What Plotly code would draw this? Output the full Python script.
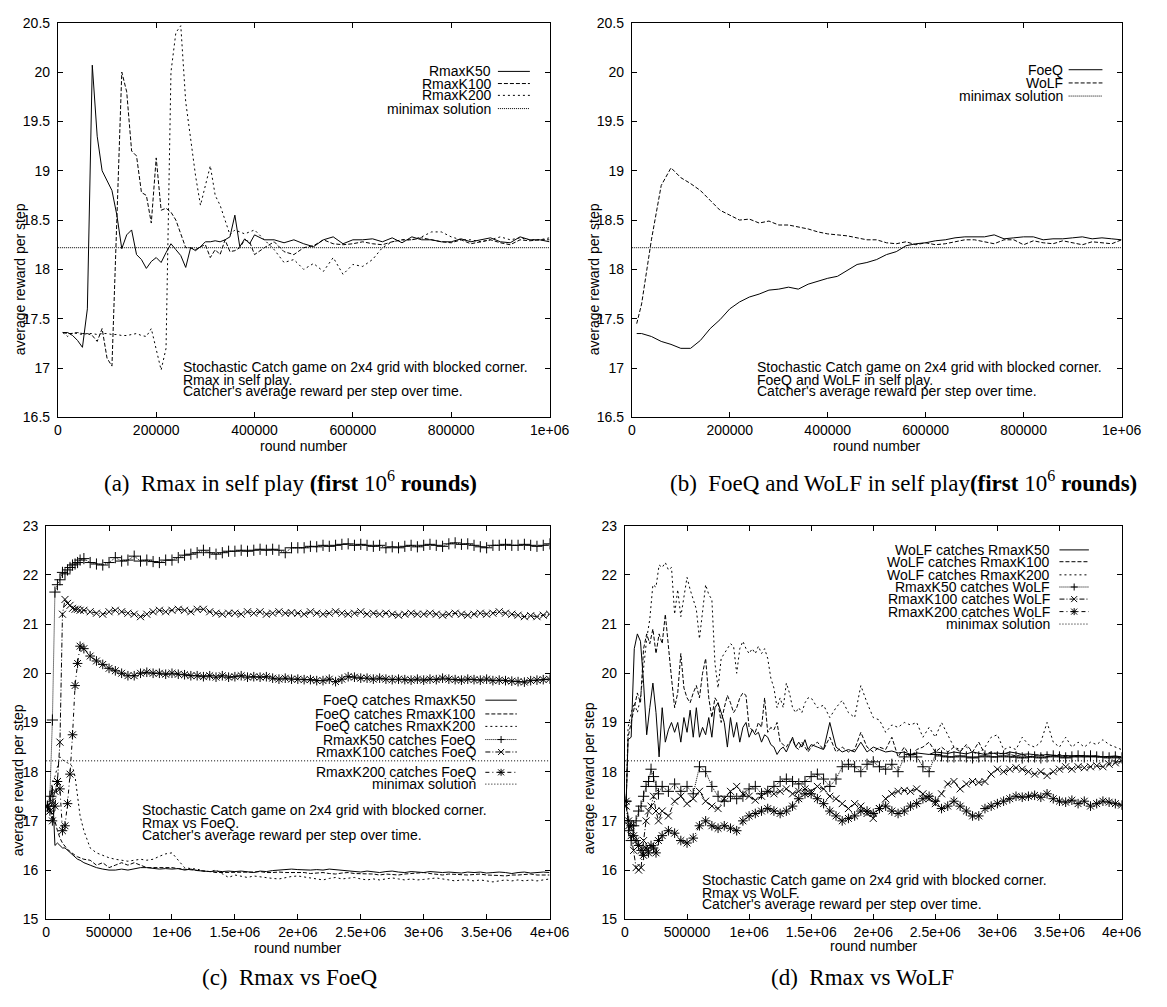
import plotly.graph_objects as go

W, H = 1167, 1007
FONT = "Liberation Sans, Arial, Helvetica, sans-serif"
SERIF = "Liberation Serif, Times New Roman, serif"

# ---------------- data ----------------
MINIMAX = 18.22

# panel (a): Rmax in self play
XA = list(range(10000, 400001, 10000)) + list(range(420000, 1000001, 20000))
A_K50 = [17.36, 17.36, 17.33, 17.28, 17.21, 17.6, 20.07, 19.35, 19.0, 18.9,
         18.8, 18.55, 18.21, 18.35, 18.4, 18.15, 18.1, 18.01, 18.08, 18.12,
         18.07, 18.17, 18.26, 18.2, 18.14, 18.02, 18.22, 18.19, 18.23, 18.28,
         18.28, 18.29, 18.28, 18.3, 18.33, 18.55, 18.23, 18.31, 18.26, 18.35,
         18.3, 18.3, 18.27, 18.3, 18.26, 18.23, 18.3, 18.33, 18.26, 18.3,
         18.3, 18.31, 18.28, 18.32, 18.27, 18.33, 18.3, 18.3, 18.28, 18.28,
         18.31, 18.28, 18.3, 18.32, 18.28, 18.27, 18.33, 18.3, 18.3, 18.28]
A_K100 = [17.36, 17.35, 17.35, 17.36, 17.35, 17.35, 17.33, 17.27, 17.4, 17.1,
          17.02, 18.5, 20.0, 19.8, 19.2, 19.15, 18.78, 18.75, 18.47, 19.13,
          18.6, 18.62, 18.58, 18.5, 18.35, 18.22, 18.22, 18.2, 18.23, 18.25,
          18.12, 18.2, 18.15, 18.3, 18.18, 18.19, 18.22, 18.3, 18.28, 18.15,
          18.22, 18.28, 18.18, 18.15, 18.22, 18.24, 18.3, 18.26, 18.25, 18.26,
          18.28, 18.26, 18.25, 18.28, 18.3, 18.3, 18.32, 18.3, 18.28, 18.27,
          18.3, 18.26, 18.28, 18.3, 18.27, 18.25, 18.3, 18.29, 18.3, 18.3]
A_K200 = [17.36, 17.32, 17.36, 17.35, 17.34, 17.35, 17.35, 17.34, 17.35, 17.35,
          17.34, 17.34, 17.33, 17.33, 17.34, 17.35, 17.33, 17.32, 17.4, 17.2,
          16.98, 17.2, 20.0, 20.4, 20.47, 19.7, 19.3, 18.95, 18.65, 18.85,
          19.05, 18.75, 18.65, 18.5, 18.35, 18.4, 18.38, 18.36, 18.38, 18.4,
          18.3, 18.2, 18.07, 18.1, 18.0, 18.06, 17.98, 18.12, 17.95, 18.05,
          18.03, 18.1, 18.22, 18.28, 18.3, 18.3, 18.33, 18.38, 18.38, 18.33,
          18.3, 18.3, 18.28, 18.3, 18.33, 18.3, 18.32, 18.3, 18.3, 18.32]

# panel (b): FoeQ and WoLF in self play
XB = [10000] + list(range(20000, 1000001, 20000))
B_FOEQ = [17.35, 17.35, 17.32, 17.27, 17.24, 17.2, 17.2, 17.28, 17.4, 17.49,
          17.6, 17.67, 17.72, 17.75, 17.79, 17.8, 17.82, 17.8, 17.85, 17.88,
          17.91, 17.93, 17.99, 18.05, 18.07, 18.1, 18.15, 18.18, 18.24, 18.26,
          18.27, 18.29, 18.3, 18.32, 18.33, 18.33, 18.33, 18.35, 18.31, 18.32,
          18.33, 18.33, 18.3, 18.31, 18.31, 18.32, 18.33, 18.31, 18.32, 18.31, 18.3]
B_WOLF = [17.45, 17.65, 18.3, 18.85, 19.03, 18.93, 18.87, 18.8, 18.7, 18.6,
          18.55, 18.5, 18.51, 18.47, 18.49, 18.45, 18.45, 18.43, 18.41, 18.38,
          18.36, 18.35, 18.34, 18.32, 18.3, 18.3, 18.27, 18.26, 18.28, 18.25,
          18.27, 18.25, 18.26, 18.28, 18.3, 18.3, 18.28, 18.26, 18.3, 18.3,
          18.25, 18.29, 18.27, 18.26, 18.29, 18.27, 18.25, 18.28, 18.27, 18.26, 18.3]

# shared grid for panels (c) and (d) marker series
XM = [10000, 30000, 50000, 70000, 90000, 110000, 130000, 150000, 170000, 190000,
      210000, 230000, 250000, 270000, 300000] + list(range(350000, 4000001, 50000))

# panel (c): Rmax vs FoeQ
C_F50 = [17.3, 17.35, 17.7, 16.5, 16.55, 16.5, 16.45, 16.45, 16.4, 16.35, 16.3, 16.25, 16.22, 16.2, 16.15,
         16.1, 16.05, 16.02, 16.0, 16.0, 16.02, 16.0, 16.03, 16.05, 16.05,
         16.03, 16.02, 16.03, 16.02, 16.03, 16.0, 16.02, 15.99, 15.98, 15.97,
         15.98, 15.97, 15.98, 15.97, 15.98, 15.96, 15.95, 15.98, 15.97, 15.99,
         16.0, 16.0, 16.02, 16.01, 16.0, 16.0, 16.01, 16.0, 16.02, 16.01,
         16.0, 15.98, 15.97, 15.96, 15.98, 15.96, 15.95, 15.97, 15.98, 15.96,
         15.95, 15.97, 15.96, 15.95, 15.97, 15.96, 15.95, 15.96, 15.95, 15.94,
         15.96, 15.95, 15.96, 15.94, 15.95, 15.96, 15.95, 15.93, 15.95, 15.96,
         15.94, 15.95, 15.96, 15.95]
C_F100 = [17.3, 17.25, 17.1, 17.0, 16.8, 16.65, 16.55, 16.48, 16.42, 16.38, 16.33, 16.3, 16.27, 16.25, 16.22,
          16.2, 16.1, 16.15, 16.05, 16.1, 16.15, 16.1, 16.15, 16.1, 16.05,
          16.05, 16.05, 16.04, 16.05, 16.03, 16.02, 16.0, 15.99, 15.98, 15.97,
          15.95, 15.95, 15.96, 15.95, 15.96, 15.95, 15.96, 15.97, 15.95, 15.95,
          15.96, 15.95, 15.95, 15.96, 15.95, 15.93, 15.94, 15.95, 15.93, 15.92,
          15.94, 15.95, 15.93, 15.93, 15.92, 15.92, 15.9, 15.92, 15.91, 15.9,
          15.92, 15.93, 15.94, 15.95, 15.93, 15.92, 15.9, 15.92, 15.91, 15.9,
          15.9, 15.91, 15.92, 15.9, 15.9, 15.89, 15.88, 15.9, 15.9, 15.91,
          15.92, 15.9, 15.9, 15.9]
C_F200 = [17.3, 17.4, 17.8, 17.9, 18.1, 18.3, 18.25, 18.2, 18.18, 18.15, 18.1, 17.9, 17.5, 17.1, 16.8,
          16.45, 16.35, 16.3, 16.25, 16.22, 16.2, 16.18, 16.2, 16.22, 16.2,
          16.22, 16.28, 16.33, 16.35, 16.2, 16.05, 16.03, 16.02, 15.98, 15.97,
          16.0, 15.93, 15.85, 15.9, 15.87, 15.85, 15.88, 15.86, 15.85, 15.83,
          15.82, 15.85, 15.87, 15.88, 15.86, 15.84, 15.82, 15.8, 15.83, 15.85,
          15.82, 15.84, 15.85, 15.82, 15.8, 15.82, 15.8, 15.82, 15.84, 15.82,
          15.8, 15.82, 15.8, 15.81, 15.82, 15.84, 15.82, 15.8, 15.78, 15.8,
          15.8, 15.78, 15.8, 15.78, 15.76, 15.78, 15.8, 15.78, 15.8, 15.78,
          15.8, 15.78, 15.8, 15.82]
C_R50 = [17.3, 17.5, 19.05, 21.65, 21.8, 21.9, 22.05, 22.02, 22.1, 22.15, 22.2, 22.22, 22.25, 22.3, 22.33,
         22.25, 22.22, 22.2, 22.25, 22.35, 22.28, 22.3, 22.38, 22.28, 22.3,
         22.27, 22.25, 22.3, 22.3, 22.35, 22.4, 22.42, 22.45, 22.5, 22.45,
         22.42, 22.45, 22.48, 22.48, 22.5, 22.48, 22.5, 22.52, 22.5, 22.52,
         22.5, 22.45, 22.55, 22.55, 22.55, 22.58, 22.57, 22.6, 22.58, 22.6,
         22.62, 22.63, 22.6, 22.62, 22.6, 22.58, 22.6, 22.55, 22.57, 22.55,
         22.58, 22.6, 22.57, 22.6, 22.62, 22.6, 22.58, 22.63, 22.65, 22.62,
         22.63, 22.6, 22.57, 22.55, 22.6, 22.6, 22.62, 22.6, 22.6, 22.62,
         22.6, 22.58, 22.6, 22.63]
C_R100 = [17.3, 17.2, 17.4, 17.6, 17.8, 18.6, 21.2, 21.5, 21.42, 21.38, 21.32, 21.3, 21.3, 21.28, 21.28,
          21.25, 21.22, 21.2, 21.25, 21.28, 21.25, 21.22, 21.2, 21.15, 21.2,
          21.25, 21.28, 21.25, 21.28, 21.3, 21.28, 21.25, 21.3, 21.3, 21.25,
          21.22, 21.2, 21.22, 21.22, 21.2, 21.25, 21.22, 21.25, 21.2, 21.22,
          21.25, 21.22, 21.23, 21.22, 21.2, 21.25, 21.22, 21.2, 21.22, 21.25,
          21.22, 21.2, 21.22, 21.25, 21.2, 21.22, 21.2, 21.22, 21.2, 21.18,
          21.2, 21.22, 21.2, 21.2, 21.22, 21.2, 21.18, 21.2, 21.22, 21.2,
          21.18, 21.2, 21.22, 21.2, 21.22, 21.25, 21.22, 21.2, 21.18, 21.15,
          21.17, 21.15, 21.18, 21.2]
C_R200 = [17.3, 17.2, 17.0, 17.3, 17.8, 17.65, 16.8, 16.9, 17.35, 17.95, 18.75, 19.75, 20.2, 20.55, 20.5,
          20.35, 20.25, 20.18, 20.1, 20.05, 20.0, 19.95, 19.95, 20.0, 20.02,
          20.0, 20.0, 19.98, 20.0, 19.98, 19.97, 19.95, 19.95, 19.93, 19.95,
          19.92, 19.95, 19.92, 19.93, 19.95, 19.92, 19.93, 19.92, 19.93, 19.9,
          19.88, 19.9, 19.88, 19.88, 19.87, 19.87, 19.85, 19.85, 19.88, 19.83,
          19.88, 19.93, 19.92, 19.9, 19.9, 19.88, 19.9, 19.88, 19.87, 19.88,
          19.87, 19.86, 19.88, 19.86, 19.88, 19.87, 19.9, 19.88, 19.87, 19.86,
          19.88, 19.87, 19.86, 19.88, 19.85, 19.86, 19.85, 19.84, 19.83, 19.82,
          19.85, 19.86, 19.87, 19.88]

# panel (d): Rmax vs WoLF
XD = [10000] + list(range(25000, 1500001, 25000)) + list(range(1550000, 4000001, 50000))
D_W50 = [17.4,
         18.65, 18.7, 20.5, 20.8, 20.65, 19.8, 18.75, 19.3, 19.8, 19.2,
         18.3, 19.3, 18.6, 18.85, 19.0, 18.8, 19.0, 18.6, 19.1, 18.8,
         19.25, 18.7, 19.3, 18.7, 18.9, 18.75, 19.1, 18.7, 19.3, 19.4,
         19.2, 19.0, 18.5, 19.1, 18.7, 19.0, 18.6, 18.9, 19.0, 18.7,
         18.85, 18.75, 18.8, 18.6, 18.75, 18.7, 18.55, 18.5, 18.35, 18.45,
         18.5, 18.4, 18.55, 18.7, 18.5, 18.6, 18.5, 18.65, 18.45, 18.55,
         18.5, 18.45, 19.0, 18.5, 18.4, 18.45, 18.4, 18.6, 18.4, 18.5,
         18.45, 18.4, 18.42, 18.38, 18.4, 18.35, 18.38, 18.36, 18.35, 18.4,
         18.38, 18.37, 18.4, 18.38, 18.36, 18.4, 18.38, 18.35, 18.37, 18.38,
         18.36, 18.4, 18.38, 18.35, 18.36, 18.34, 18.33, 18.35, 18.34, 18.32,
         18.33, 18.32, 18.33, 18.32, 18.31, 18.32, 18.3, 18.31, 18.32, 18.3]
D_W100 = [17.4,
          18.7, 19.0, 19.3, 19.6, 19.4, 20.5, 20.8, 20.6, 20.9, 20.4,
          20.8, 20.6, 21.2, 20.5, 19.9, 19.3, 19.6, 20.4, 19.7, 19.5,
          19.4, 19.6, 19.75, 19.5, 20.0, 20.3, 19.5, 19.1, 19.5, 19.4,
          19.0, 19.3, 19.55, 19.4, 19.2, 19.3, 19.5, 19.6, 19.55, 18.9,
          18.85, 18.8, 19.0, 18.9, 19.5, 18.8, 18.9, 18.85, 19.0, 18.6,
          18.55, 18.5, 18.6, 18.65, 18.5, 18.45, 18.6, 18.5, 18.4, 18.5,
          18.6, 18.45, 18.7, 18.4, 18.5, 18.4, 18.45, 18.8, 18.5, 18.4,
          18.5, 18.45, 18.7, 18.3, 18.5, 18.3, 18.45, 18.5, 18.6, 18.4,
          18.5, 18.4, 18.5, 18.4, 18.55, 18.4, 18.6, 18.35, 18.4, 18.35,
          18.38, 18.35, 18.32, 18.35, 18.3, 18.33, 18.35, 18.3, 18.33, 18.35,
          18.3, 18.32, 18.3, 18.33, 18.3, 18.32, 18.3, 18.31, 18.3, 18.3]
D_W200 = [17.4,
          18.9, 19.2, 19.4, 19.2, 19.5, 20.1, 20.7, 21.1, 21.8, 21.75,
          22.2, 22.15, 22.25, 22.1, 22.15, 21.2, 21.7, 21.15, 21.6, 21.95,
          21.7, 21.5, 21.3, 20.7, 21.3, 21.8, 21.6, 21.5, 20.2, 19.7,
          20.3, 20.4, 20.5, 20.6, 20.55, 20.0, 20.5, 20.65, 20.5, 20.4,
          20.5, 20.4, 20.55, 20.4, 20.5, 20.3, 19.9, 19.7, 19.3, 19.5,
          19.3, 19.8, 19.6, 19.3, 19.2, 19.3, 19.2, 19.4, 19.5, 19.5,
          19.3, 19.35, 19.1, 19.3, 19.45, 19.2, 19.1, 19.75, 19.4, 19.1,
          19.05, 18.8, 18.95, 18.9, 19.0, 18.95, 19.0, 18.7, 18.9, 18.7,
          19.0, 18.75, 18.5, 18.45, 18.5, 18.4, 18.35, 18.5, 18.7, 18.75,
          18.45, 18.5, 18.45, 18.7, 18.55, 18.5, 18.6, 19.0, 18.6, 18.5,
          18.7, 18.5, 18.6, 18.5, 18.6, 18.55, 18.65, 18.55, 18.5, 18.45]
D_R50 = [17.4, 16.8, 16.6, 16.9, 17.0, 17.2, 17.3, 17.5, 17.7, 17.8, 18.05, 17.9, 17.7, 17.55, 17.7,
         17.6, 17.75, 17.6, 17.7, 17.55, 18.1, 18.0, 17.7, 17.5, 17.4,
         17.5, 17.45, 17.5, 17.65, 17.7, 17.55, 17.6, 17.7, 17.8, 17.85,
         17.8, 17.75, 17.8, 17.9, 17.95, 17.85, 17.7, 17.85, 18.1, 18.15,
         18.1, 18.0, 18.15, 18.2, 18.1, 18.05, 18.15, 18.0, 18.3, 18.35,
         18.3, 18.1, 18.0, 18.35, 18.32, 18.3, 18.3, 18.32, 18.3, 18.28,
         18.3, 18.32, 18.3, 18.3, 18.32, 18.3, 18.3, 18.28, 18.3, 18.3,
         18.28, 18.3, 18.32, 18.3, 18.28, 18.3, 18.32, 18.3, 18.32, 18.3,
         18.3, 18.28, 18.3, 18.28]
D_R100 = [17.3, 16.9, 16.7, 16.4, 16.05, 16.0, 16.05, 16.6, 17.0, 17.2, 17.3, 17.5, 17.2, 17.0, 17.2,
          17.1, 17.4, 17.5, 17.35, 17.45, 17.6, 17.4, 17.3, 17.25, 17.45,
          17.6, 17.7, 17.55, 17.5, 17.42, 17.5, 17.6, 17.55, 17.6, 17.65,
          17.55, 17.6, 17.65, 17.6, 17.7, 17.65, 17.5, 17.45, 17.35, 17.25,
          17.35, 17.3, 17.15, 17.05, 17.25, 17.45, 17.55, 17.6, 17.62, 17.6,
          17.65, 17.55, 17.45, 17.35, 17.55, 17.75, 17.8, 17.65, 17.75, 17.8,
          17.78, 17.8, 17.95, 18.05, 18.0, 18.05, 18.08, 18.05, 18.0, 17.95,
          18.0, 17.92, 18.0, 18.05, 18.1, 18.05, 18.1, 18.08, 18.1, 18.12,
          18.1, 18.15, 18.18, 18.22]
D_R200 = [17.4, 17.0, 16.9, 16.7, 16.6, 16.5, 16.4, 16.3, 16.45, 16.35, 16.5, 16.45, 16.35, 16.6, 16.7,
          16.8, 16.75, 16.6, 16.55, 16.65, 16.9, 17.0, 16.9, 16.85, 16.9,
          16.85, 16.8, 17.0, 17.1, 17.15, 17.2, 17.25, 17.2, 17.15, 17.2,
          17.3, 17.45, 17.55, 17.55, 17.45, 17.35, 17.2, 17.1, 17.0, 17.05,
          17.1, 17.2, 17.2, 17.15, 17.25, 17.3, 17.2, 17.15, 17.2, 17.3,
          17.35, 17.45, 17.5, 17.4, 17.25, 17.3, 17.4, 17.3, 17.2, 17.1,
          17.1, 17.25, 17.3, 17.35, 17.4, 17.45, 17.5, 17.48, 17.5, 17.52,
          17.48, 17.55, 17.45, 17.4, 17.38, 17.42, 17.35, 17.4, 17.3, 17.35,
          17.4, 17.38, 17.35, 17.32]

XT_AB = [0, 200000, 400000, 600000, 800000, 1000000]
XL_AB = ["0", "200000", "400000", "600000", "800000", "1e+06"]
XT_CD = [0, 500000, 1000000, 1500000, 2000000, 2500000, 3000000, 3500000, 4000000]
XL_CD = ["0", "500000", "1e+06", "1.5e+06", "2e+06", "2.5e+06", "3e+06", "3.5e+06", "4e+06"]
YT_AB = [16.5, 17, 17.5, 18, 18.5, 19, 19.5, 20, 20.5]
YL_AB = ["16.5", "17", "17.5", "18", "18.5", "19", "19.5", "20", "20.5"]
YT_CD = [15, 16, 17, 18, 19, 20, 21, 22, 23]
YL_CD = ["15", "16", "17", "18", "19", "20", "21", "22", "23"]

NOTE_L1 = "Stochastic Catch game on 2x4 grid with blocked corner."
NOTE_L3 = "Catcher's average reward per step over time."

# ---------------- styles / layout ----------------
SOLID, DASH, DOT, MM = "solid", "4px,2px", "2px,3px", "1px,1px"
DOTM, DD1, DD2, MM2 = "1px,1px", "5px,2px,1px,2px", "4px,3px,1px,3px", "1px,2px"

# panel boxes in pixels: left, right, top, bottom
BOX = {"a": (55, 557, 15, 416), "b": (641, 1141, 15, 416),
       "c": (43, 557, 526, 926), "d": (634, 1141, 526, 926)}
AXN = {"a": ("x", "y"), "b": ("x2", "y2"), "c": ("x3", "y3"), "d": ("x4", "y4")}

fig = go.Figure()


def line(panel, x, y, dash, marker=None, msize=8):
    xa, ya = AXN[panel]
    kw = dict(x=x, y=y, xaxis=xa, yaxis=ya, showlegend=False, hoverinfo="skip",
              line=dict(color="black", width=1, dash=dash))
    if marker:
        kw["mode"] = "lines+markers"
        kw["marker"] = dict(symbol=marker, size=msize, color="black",
                            line=dict(color="black", width=1))
    else:
        kw["mode"] = "lines"
    fig.add_trace(go.Scatter(**kw))


XMAX = {"a": 1000000, "b": 1000000, "c": 4000000, "d": 4000000}

# panel a
line("a", [0, XMAX["a"]], [MINIMAX, MINIMAX], MM)
line("a", XA, A_K200, DOT)
line("a", XA, A_K100, DASH)
line("a", XA, A_K50, SOLID)
# panel b
line("b", [0, XMAX["b"]], [MINIMAX, MINIMAX], MM)
line("b", XB, B_WOLF, DASH)
line("b", XB, B_FOEQ, SOLID)
# panel c
line("c", [0, XMAX["c"]], [MINIMAX, MINIMAX], MM2)
line("c", XM, C_F200, DOT)
line("c", XM, C_F100, DASH)
line("c", XM, C_F50, SOLID)
line("c", XM, C_R200, DD2, "asterisk-open", 8)
line("c", XM, C_R100, DD1, "x-thin-open", 7)
line("c", XM, C_R50, DOTM, "cross-thin-open", 8)
# panel d
line("d", [0, XMAX["d"]], [MINIMAX, MINIMAX], MM2)
line("d", XD, D_W200, DOT)
line("d", XD, D_W100, DASH)
line("d", XD, D_W50, SOLID)
line("d", XM, D_R200, DD2, "asterisk-open", 8)
line("d", XM, D_R100, DD1, "x-thin-open", 7)
line("d", XM, D_R50, DOTM, "cross-thin-open", 8)

AX = dict(showline=True, linecolor="black", linewidth=1, mirror="ticks",
          ticks="inside", ticklen=5, tickwidth=1, tickcolor="black",
          showgrid=False, zeroline=False, tickmode="array",
          tickfont=dict(family=FONT, size=14, color="black"))

layout = dict(width=W, height=H, autosize=False, margin=dict(l=0, r=0, t=0, b=0),
              paper_bgcolor="white", plot_bgcolor="white", showlegend=False)
for p, (x0, x1, y0, y1) in BOX.items():
    xa, ya = AXN[p]
    xk = "xaxis" + xa[1:]
    yk = "yaxis" + ya[1:]
    if p in ("a", "b"):
        xr, xt, xl, yr, yt, yl = [0, 1000000], XT_AB, XL_AB, [16.5, 20.5], YT_AB, YL_AB
    else:
        xr, xt, xl, yr, yt, yl = [0, 4000000], XT_CD, XL_CD, [15, 23], YT_CD, YL_CD
    layout[xk] = dict(domain=[x0 / W, x1 / W], range=xr, anchor=ya, tickvals=xt,
                      ticktext=xl, **AX)
    layout[yk] = dict(domain=[1 - y1 / H, 1 - y0 / H], range=yr, anchor=xa,
                      tickvals=yt, ticktext=yl, ticklabelstandoff=4, **AX)
fig.update_layout(**layout)

ann = []
shapes = []


def txt(text, x, y, xref="paper", yref="paper", xanchor="center", size=14,
        family=FONT, angle=0):
    if xref == "paper":
        x = x / W
    if yref == "paper":
        y = 1 - y / H
    ann.append(dict(text=text, x=x, y=y, xref=xref, yref=yref, xanchor=xanchor,
                    yanchor="middle", showarrow=False, textangle=angle,
                    font=dict(family=family, size=size, color="black")))


# axis titles
txt("round number", 306, 445)
txt("round number", 891, 445)
txt("round number", 300, 955)
txt("round number", 888, 953)
txt("average reward per step", 16, 276, angle=-90)
txt("average reward per step", 602, 276, angle=-90)
txt("average reward per step", 14, 785, angle=-90)
txt("average reward per step", 597, 783, angle=-90)

# captions
txt("(a)\u2002Rmax in self play <b>(first</b> 10<sup>6</sup> <b>rounds)</b>", 293, 481,
    size=23, family=SERIF)
txt("(b)\u2002FoeQ and WoLF in self play<b>(first</b> 10<sup>6</sup> <b>rounds)</b>", 918, 481,
    size=23, family=SERIF)
txt("(c)\u2002Rmax vs FoeQ", 292, 985, size=23, family=SERIF)
txt("(d)\u2002Rmax vs WoLF", 877, 985, size=23, family=SERIF)

# notes inside the panels
NOTES = {
    "a": (250000, [17.01, 16.88, 16.77], "Rmax in self play."),
    "b": (251500, [17.01, 16.88, 16.77], "FoeQ and WoLF in self play."),
    "c": (749000, [17.22, 16.95, 16.72], "Rmax vs FoeQ."),
    "d": (606500, [15.79, 15.54, 15.31], "Rmax vs WoLF."),
}
for p, (nx, ys, l2) in NOTES.items():
    xa, ya = AXN[p]
    for t, yy in zip([NOTE_L1, l2, NOTE_L3], ys):
        txt(t, nx, yy, xref=xa, yref=ya, xanchor="left")

# legends (text right-aligned, sample on the right)
LEG = {
    "a": (884000, 895000, 960000, [20.007, 19.884, 19.764, 19.63],
          [("RmaxK50", SOLID, None), ("RmaxK100", DASH, None),
           ("RmaxK200", DOT, None), ("minimax solution", MM, None)]),
    "b": (884000, 892000, 961000, [20.024, 19.89, 19.757],
          [("FoeQ", SOLID, None), ("WoLF", DASH, None), ("minimax solution", MM, None)]),
    "c": (3435000, 3490000, 3740000, [19.453, 19.173, 18.92, 18.653, 18.4, 17.987, 17.747],
          [("FoeQ catches RmaxK50", SOLID, None), ("FoeQ catches RmaxK100", DASH, None),
           ("FoeQ catches RmaxK200", DOT, None), ("RmaxK50 catches FoeQ", DOTM, "+"),
           ("RmaxK100 catches FoeQ", DD1, "x"), ("RmaxK200 catches FoeQ", DD2, "*"),
           ("minimax solution", MM2, None)]),
    "d": (3440000, 3500000, 3737000, [22.507, 22.267, 22.0, 21.753, 21.507, 21.253, 21.0],
          [("WoLF catches RmaxK50", SOLID, None), ("WoLF catches RmaxK100", DASH, None),
           ("WoLF catches RmaxK200", DOT, None), ("RmaxK50 catches WoLF", DOTM, "+"),
           ("RmaxK100 catches WoLF", DD1, "x"), ("RmaxK200 catches WoLF", DD2, "*"),
           ("minimax solution", MM2, None)]),
}
for p, (tx, sx0, sx1, ys, items) in LEG.items():
    xa, ya = AXN[p]
    for (label, dash, mk), yy in zip(items, ys):
        txt(label, tx, yy, xref=xa, yref=ya, xanchor="right")
        shapes.append(dict(type="line", xref=xa, yref=ya, x0=sx0, x1=sx1, y0=yy, y1=yy,
                           line=dict(color="black", width=1, dash=dash)))
        if mk:
            mid = (sx0 + sx1) / 2
            segs = []
            if mk in ("+", "*"):
                segs += [(-3.5, 0, 3.5, 0), (0, -3.5, 0, 3.5)]
            if mk in ("x", "*"):
                segs += [(-3, -3, 3, 3), (-3, 3, 3, -3)]
            for a0, b0, a1, b1 in segs:
                shapes.append(dict(type="line", xref=xa, yref=ya, xsizemode="pixel",
                                   ysizemode="pixel", xanchor=mid, yanchor=yy,
                                   x0=a0, x1=a1, y0=b0, y1=b1,
                                   line=dict(color="black", width=1)))

fig.update_layout(annotations=ann, shapes=shapes)
fig.write_html("out.html")
